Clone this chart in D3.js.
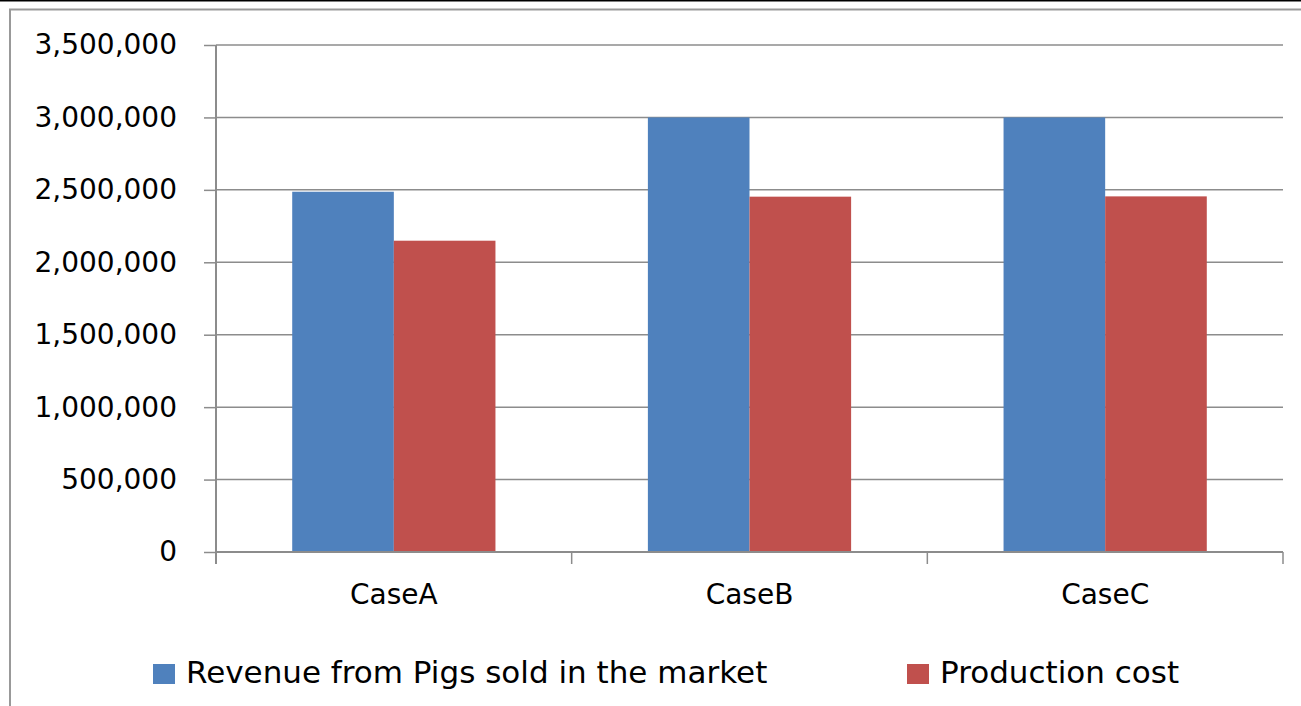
<!DOCTYPE html>
<html><head><meta charset="utf-8">
<script src="https://cdn.jsdelivr.net/npm/d3@7"></script>
<style>body{margin:0;background:#fff}svg{display:block}text{font-family:"DejaVu Sans",sans-serif;fill:#000}</style>
</head><body><svg id="c" width="1301" height="706"></svg>
<script>
const categories = ["CaseA","CaseB","CaseC"];
const seriesNames = ["Revenue from Pigs sold in the market","Production cost"];
const revenue = [2487000, 3000000, 3000000];
const cost = [2149000, 2453000, 2455000];
const yTicks = [0,500000,1000000,1500000,2000000,2500000,3000000,3500000];
const colors = ["#4F81BD","#C0504D"];

const svg = d3.select("#c");
// frame
svg.append("line").attr("x1",0).attr("x2",1301).attr("y1",0.5).attr("y2",0.5).attr("stroke","#000").attr("stroke-width",2);
svg.append("path").attr("d","M10,706V9.5H1301").attr("fill","none").attr("stroke","#999").attr("stroke-width",2);

const L=216, R=1283, T=45, B=552;
const x = d3.scaleBand().domain(categories).range([L,R]);
const x1 = d3.scaleBand().domain([0,1]).range([0, x.bandwidth()]).paddingOuter(0.75).paddingInner(0);
const y = d3.scaleLinear().domain([0,3500000]).range([B,T]);
const fmt = d3.format(",");
const FONT = "'DejaVu Sans',sans-serif";

// gridlines
svg.append("g").selectAll("line").data(yTicks.filter(d=>d>0)).join("line")
  .attr("x1",L).attr("x2",R).attr("y1",d=>y(d)).attr("y2",d=>y(d))
  .attr("stroke","#8c8c8c").attr("stroke-width",1.5);

// bars
const data = categories.map((c,i)=>({c, v:[revenue[i], cost[i]]}));
const g = svg.append("g");
data.forEach(d=>{
  d.v.forEach((v,k)=>{
    g.append("rect").attr("x",x(d.c)+x1(k)).attr("width",x1.bandwidth())
      .attr("y",y(v)).attr("height",B-y(v)).attr("fill",colors[k]);
  });
});

// y axis
const ya = svg.append("g").attr("transform",`translate(${L},0)`)
  .call(d3.axisLeft(y).tickValues(yTicks).tickFormat(fmt).tickSize(12).tickPadding(27));
ya.select(".domain").attr("stroke","#8c8c8c").attr("stroke-width",2).attr("d",`M0,${T}V${B+12}`);
ya.selectAll(".tick line").attr("stroke","#8c8c8c").attr("stroke-width",1.5);
ya.selectAll("text").attr("font-size",28).attr("font-family",FONT).attr("fill","#000");

// x axis
const xa = svg.append("g").attr("transform",`translate(0,${B})`)
  .call(d3.axisBottom(x).tickSize(0).tickPadding(32));
xa.select(".domain").attr("stroke","#8c8c8c").attr("stroke-width",2).attr("d",`M${L},0H${R}`);
xa.selectAll("text").attr("font-size",28).attr("font-family",FONT).attr("fill","#000");
[0,1,2,3].forEach(i=>{
  const px = L + i*x.step();
  svg.append("line").attr("x1",px).attr("x2",px).attr("y1",B).attr("y2",B+12).attr("stroke","#8c8c8c").attr("stroke-width",1.5);
});

// legend
const leg = [{x:153},{x:907}];
seriesNames.forEach((n,k)=>{
  svg.append("rect").attr("x",leg[k].x).attr("y",664).attr("width",22).attr("height",20).attr("fill",colors[k]);
  svg.append("text").attr("x",leg[k].x+33).attr("y",683).attr("font-size",31).attr("font-family",FONT).text(n);
});
</script></body></html>
